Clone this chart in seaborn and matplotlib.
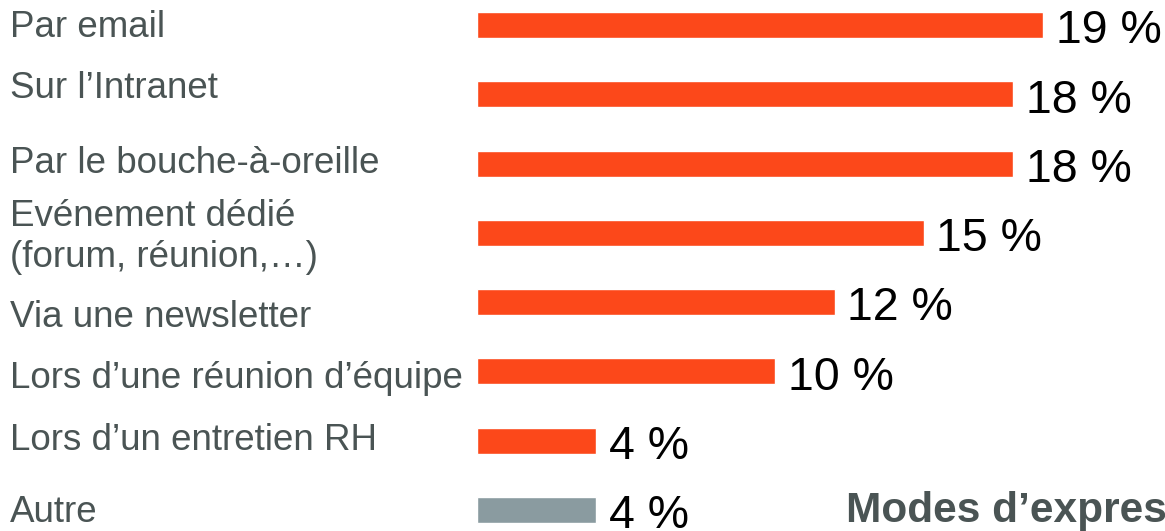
import matplotlib
matplotlib.use("Agg")
import matplotlib.pyplot as plt
import matplotlib.transforms as mtransforms
import seaborn as sns
import pandas as pd

# Data
categories = [
    "Par email",
    "Sur l’Intranet",
    "Par le bouche-à-oreille",
    "Evénement dédié\n(forum, réunion,…)",
    "Via une newsletter",
    "Lors d’une réunion d’équipe",
    "Lors d’un entretien RH",
    "Autre",
]
values = [19, 18, 18, 15, 12, 10, 4, 4]
title_text = "Modes d’expression"

df = pd.DataFrame({"Canal": categories, "Part": values})

# styling
orange = "#FC481A"
grey = "#8A9BA0"
label_color = "#4A5454"
bar_colors = [orange] * 7 + [grey]
# small vertical nudges (points) of the category labels, as on the slide
label_nudge = [-2, 4, 0, -3, -11, -5, 0, -2]

sns.set_style("white")
plt.rcParams["font.family"] = ["Liberation Sans", "DejaVu Sans"]

fig = plt.figure(figsize=(11.65, 5.31), dpi=100)
ax = fig.add_axes([477 / 1165, 0, 1 - 477 / 1165, 1])

sns.barplot(data=df, x="Part", y="Canal", hue="Canal", palette=bar_colors,
            orient="h", width=0.375, legend=False, ax=ax, saturation=1)

ax.set_xlim(0, 688 / 29.8)
ax.set_ylim(7.303, -0.361)
ax.set_xlabel("")
ax.set_ylabel("")
ax.set_xticks([])
ax.set_yticks([])
sns.despine(ax=ax, left=True, bottom=True)

# value labels after each bar
for i, v in enumerate(values):
    ax.annotate(f"{v} %", xy=(v, i), xytext=(9, -4.5), textcoords="offset points",
                ha="left", va="center", fontsize=33.5, color="black",
                annotation_clip=False)

# category labels on the left, left-aligned
trans = mtransforms.blended_transform_factory(fig.transFigure, ax.transData)
for i, lab in enumerate(categories):
    ax.annotate(lab, xy=(10 / 1165, i), xycoords=trans,
                xytext=(0, label_nudge[i]), textcoords="offset points",
                ha="left", va="center", fontsize=26.5, color=label_color,
                linespacing=1.25, annotation_clip=False)

# clipped slide title at the bottom right
fig.text(846 / 1165, 1 - 511 / 531, title_text, ha="left", va="center",
         fontsize=30.5, fontweight="bold", color=label_color)

fig.savefig("out.png", dpi=100)
